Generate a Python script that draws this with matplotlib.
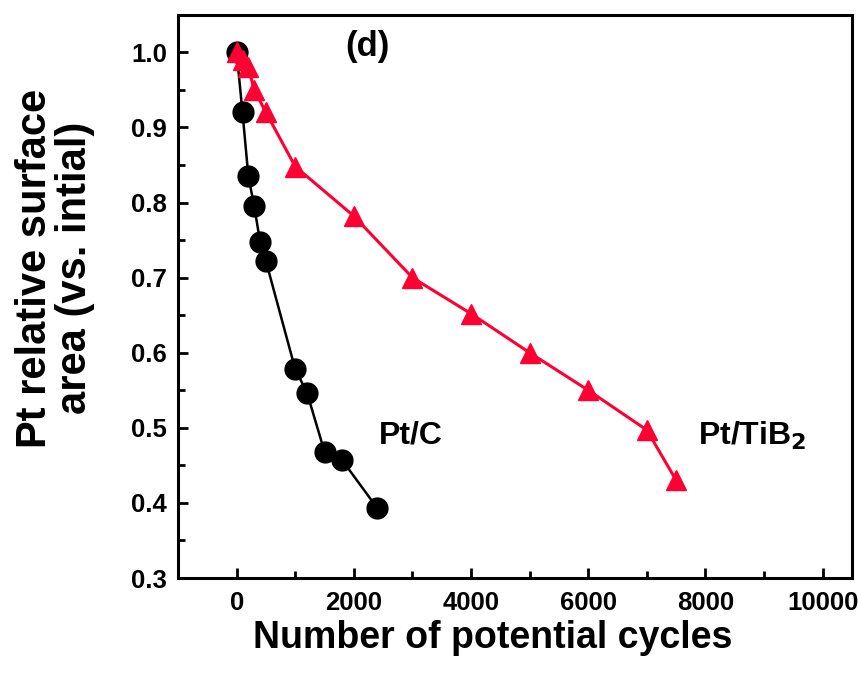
import matplotlib

matplotlib.use("Agg")
import matplotlib.pyplot as plt
from matplotlib.ticker import MultipleLocator

plt.rcParams["font.family"] = ["Liberation Sans", "DejaVu Sans"]
plt.rcParams["font.weight"] = "bold"

# Pt/C (black circles)
ptc_cycles = [0, 100, 200, 300, 400, 500, 1000, 1200, 1500, 1800, 2400]
ptc_area = [1.0, 0.92, 0.835, 0.795, 0.748, 0.722, 0.578, 0.547, 0.468, 0.457, 0.393]

# Pt/TiB2 (red triangles)
tib_cycles = [0, 100, 200, 300, 500, 1000, 2000, 3000, 4000, 5000, 6000, 7000, 7500]
tib_area = [1.0, 0.99, 0.98, 0.95, 0.92, 0.848, 0.782, 0.70, 0.652, 0.60, 0.55, 0.497, 0.43]

RED = "#ff0033"

fig = plt.figure(figsize=(8.58, 6.75), dpi=100)
ax = fig.add_axes([0.2075, 0.1437, 0.7855, 0.8343])

ax.plot(ptc_cycles, ptc_area, "-o", color="black", lw=1.8, markersize=15)
ax.plot(tib_cycles, tib_area, "-^", color=RED, lw=2.2, markersize=15)

ax.set_xlim(-1000, 10500)
ax.set_ylim(0.3, 1.05)
ax.xaxis.set_major_locator(MultipleLocator(2000))
ax.xaxis.set_minor_locator(MultipleLocator(1000))
ax.yaxis.set_major_locator(MultipleLocator(0.1))
ax.yaxis.set_minor_locator(MultipleLocator(0.05))
ax.tick_params(which="both", direction="in", width=2, labelsize=18.5)
ax.tick_params(which="major", length=7)
ax.tick_params(which="minor", length=5)
ax.tick_params(axis="x", pad=9)
ax.tick_params(axis="y", pad=8)
for lab in ax.get_xticklabels() + ax.get_yticklabels():
    lab.set_fontweight("bold")
for spine in ax.spines.values():
    spine.set_linewidth(2.2)

ax.set_xlabel("Number of potential cycles", fontsize=27, fontweight="bold", labelpad=4)
ax.set_ylabel("Pt relative surface\narea (vs. intial)", fontsize=30,
              fontweight="bold", labelpad=26, linespacing=1.0)
ax.xaxis.label.set_x(0.467)
ax.yaxis.label.set_y(0.55)

ax.text(2230, 1.008, "(d)", fontsize=25, fontweight="bold", ha="center", va="center")
ax.text(2980, 0.49, "Pt/C", fontsize=23, fontweight="bold", ha="center", va="center")
ax.text(8790, 0.49, "Pt/TiB$_\\mathbf{2}$", fontsize=23, fontweight="bold",
        ha="center", va="center")

fig.savefig("out.png", dpi=100)
